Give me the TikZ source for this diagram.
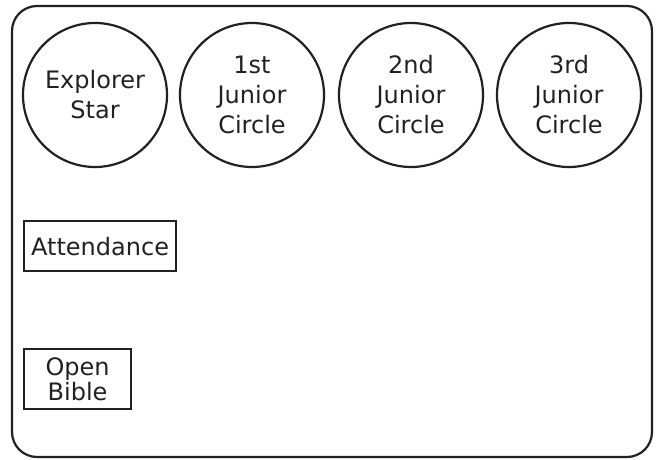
\documentclass[tikz,border=0pt]{standalone}
\usepackage{fontspec}
\setmainfont{DejaVu Sans}
\usetikzlibrary{
  positioning
}
\usepackage{xcolor}
\definecolor{inkGray}{rgb}{0.13,0.13,0.13}
\tikzset{
  award/.style={
    circle,
    draw=inkGray,
    line width=2.2pt,
    inner sep = 0pt,
    minimum size = 144pt,
    align=center,
    text=inkGray,
    font=\fontsize{24}{30}\selectfont
  },
  tallybox/.style={
    rectangle,
    draw=inkGray,
    line width=2.2pt,
    inner sep = 0pt,
    align=center,
    text=inkGray,
    font=\fontsize{24}{25}\selectfont
  }
}

\begin{document}
\begin{tikzpicture}[
      x=1pt, y=-1pt
      ]
      \useasboundingbox (0,0) rectangle (659,460);

      % card outline
      \draw[draw=inkGray, line width=2.2pt, rounded corners=25pt]
      (12,6) rectangle (652,457);

      \node[award] (star) at (95,95) {Explorer\\Star};
      \foreach \i/\x/\j in {1/252/1st, 2/411/2nd, 3/569/3rd}{
        \node[award] (junior\i) at (\x,95) {\j\\Junior\\Circle};
      }

      \node[tallybox, anchor=north west, minimum width=152pt, minimum height=50pt]
      (attendance) at (23,220) {Attendance};
      \node[tallybox, anchor=north west, minimum width=107pt, minimum height=60pt]
      (bible) at (23,348) {Open\\Bible};
    \end{tikzpicture}
\end{document}
